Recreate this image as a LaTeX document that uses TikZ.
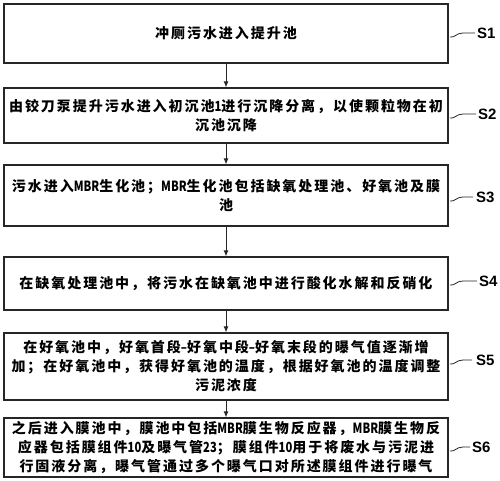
\documentclass[tikz,border=0pt]{standalone}
\usepackage{fontspec}
\usepackage{graphicx}
\usetikzlibrary{arrows.meta}
\newfontfamily\cjk[LetterSpace=14]{Noto Sans CJK SC}
\newfontfamily\cjkn{Noto Sans CJK SC}
\newfontfamily\labf{Liberation Sans}
\newcommand\nlat[1]{{\cjkn\bfseries\scalebox{0.8}[1]{#1}}}
\begin{document}
\begin{tikzpicture}[x=1pt,y=-1pt,
  box/.style={draw=black!85,line width=1.2pt,minimum width=444pt,inner sep=0pt,align=center,
    font=\cjk\bfseries\fontsize{14}{19}\selectfont},
  lbl/.style={anchor=west,inner sep=0pt,font=\labf\bfseries\fontsize{15}{15}\selectfont},
  lead/.style={line width=0.8pt,draw=black!85},
  arr/.style={line width=0.9pt,draw=black!85,-{Latex[length=6pt,width=5pt]}}]
\useasboundingbox (0,0) rectangle (500,481);
\node[box,minimum height=59pt] (b1) at (226,33.5) {冲厕污水进入提升池};
\node[box,minimum height=55pt] (b2) at (226,115.5) {由铰刀泵提升污水进入初沉池\nlat{1}进行沉降分离，以使颗粒物在初\\沉池沉降};
\node[box,minimum height=61pt] (b3) at (226,195.5) {污水进入\nlat{MBR}生化池；\nlat{MBR}生化池包括缺氧处理池、好氧池及膜\\池};
\node[box,minimum height=53pt] (b4) at (226,283.5) {在缺氧处理池中，将污水在缺氧池中进行酸化水解和反硝化};
\node[box,minimum height=67pt] (b5) at (226,366.5) {在好氧池中，好氧首段\nlat{–}好氧中段\nlat{–}好氧末段的曝气值逐渐增\\加；在好氧池中，获得好氧池的温度，根据好氧池的温度调整\\污泥浓度};
\node[box,minimum height=59pt] (b6) at (226,447.5) {之后进入膜池中，膜池中包括\nlat{MBR}膜生物反应器，\nlat{MBR}膜生物反\\应器包括膜组件\nlat{10}及曝气管\nlat{23}；膜组件\nlat{10}用于将废水与污泥进\\行固液分离，曝气管通过多个曝气口对所述膜组件进行曝气};
\draw[arr] (b1) -- (b2);
\draw[arr] (b2) -- (b3);
\draw[arr] (b3) -- (b4);
\draw[arr] (b4) -- (b5);
\draw[arr] (b5) -- (b6);
\node[lbl] (s1) at (477,33) {S1};
\node[lbl] (s2) at (478,114) {S2};
\node[lbl] (s3) at (476,197) {S3};
\node[lbl] (s4) at (479,281) {S4};
\node[lbl] (s5) at (476,360) {S5};
\node[lbl] (s6) at (472,447) {S6};
\coordinate (c1) at (450,37);
\coordinate (c2) at (450,118);
\coordinate (c3) at (450,201);
\coordinate (c4) at (450,285);
\coordinate (c5) at (450,364);
\coordinate (c6) at (450,451);
\draw[lead] (c1) .. controls (455,38) and (456,33) .. (463,33) -- ([xshift=-2pt]s1.west);
\draw[lead] (c2) .. controls (455,119) and (456,114) .. (463,114) -- ([xshift=-2pt]s2.west);
\draw[lead] (c3) .. controls (455,202) and (456,197) .. (463,197) -- ([xshift=-3pt]s3.west);
\draw[lead] (c4) .. controls (455,286) and (456,281) .. (463,281) -- ([xshift=-2pt]s4.west);
\draw[lead] (c5) .. controls (455,365) and (456,360) .. (463,360) -- ([xshift=-4pt]s5.west);
\draw[lead] (c6) .. controls (455,452) and (456,447) .. (463,447) -- ([xshift=-2pt]s6.west);
\end{tikzpicture}
\end{document}
